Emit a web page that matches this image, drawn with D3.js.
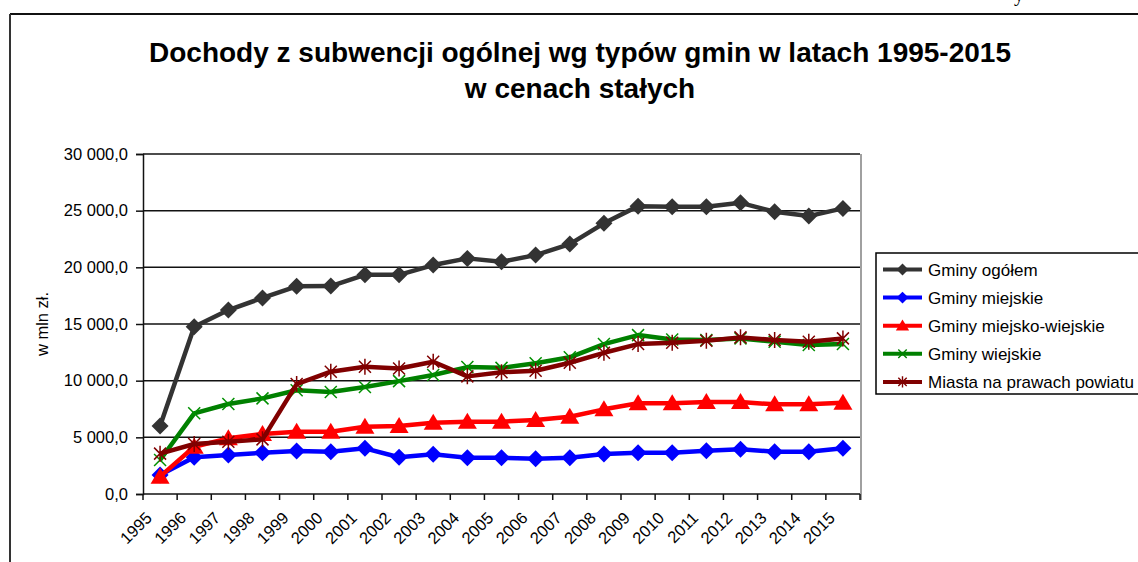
<!DOCTYPE html>
<html>
<head>
<meta charset="utf-8">
<script src="https://cdn.jsdelivr.net/npm/d3@7"></script>
<style>
  body { margin: 0; background: #fff; }
  text { font-family: "Liberation Sans", Arial, sans-serif; fill: #000; }
</style>
</head>
<body>
<div id="chart"></div>
<script>
// data (mln zł)
var years = ["1995","1996","1997","1998","1999","2000","2001","2002","2003","2004","2005",
             "2006","2007","2008","2009","2010","2011","2012","2013","2014","2015"];
var ogolem = [6000, 14760, 16230, 17300, 18330, 18350, 19340, 19340, 20200, 20790, 20490,
              21080, 22050, 23880, 25400, 25340, 25340, 25690, 24900, 24520, 25200];
var miejskie = [1680, 3240, 3440, 3640, 3790, 3730, 4030, 3240, 3500, 3200, 3200,
                3110, 3200, 3530, 3640, 3640, 3820, 3940, 3730, 3730, 4030];
var miejskoWiejskie = [1530, 4170, 4910, 5290, 5500, 5500, 5940, 6000, 6290, 6380, 6380,
                       6530, 6820, 7470, 8000, 8000, 8110, 8110, 7910, 7910, 8050];
var wiejskie = [3000, 7120, 7940, 8440, 9150, 9000, 9440, 9960, 10500, 11200, 11130,
                11530, 12060, 13230, 14020, 13640, 13580, 13730, 13430, 13140, 13230];
var miasta = [3560, 4410, 4610, 4820, 9700, 10790, 11230, 11080, 11670, 10380, 10750,
              10880, 11580, 12460, 13230, 13350, 13520, 13820, 13580, 13430, 13730];
var yTicks = [0, 5000, 10000, 15000, 20000, 25000, 30000];

var series = [
  {name: "Gminy ogółem", values: ogolem, color: "#333333", marker: "diamond"},
  {name: "Gminy miejskie", values: miejskie, color: "#0000ff", marker: "diamond"},
  {name: "Gminy miejsko-wiejskie", values: miejskoWiejskie, color: "#ff0000", marker: "triangle"},
  {name: "Gminy wiejskie", values: wiejskie, color: "#008000", marker: "x"},
  {name: "Miasta na prawach powiatu", values: miasta, color: "#800000", marker: "star"}
];

var width = 1138, height = 562;
var plot = {left: 143, right: 860, top: 154, bottom: 494};

var svg = d3.select("#chart").append("svg")
  .attr("width", width)
  .attr("height", height);

// outer frame
svg.append("line").attr("x1", 10).attr("x2", width).attr("y1", 14).attr("y2", 14)
  .attr("stroke", "#111").attr("stroke-width", 2);
svg.append("line").attr("x1", 10).attr("x2", 10).attr("y1", 14).attr("y2", height)
  .attr("stroke", "#333").attr("stroke-width", 2);
// stray glyph above the frame (cut off at the top edge as in the source)
svg.append("text").attr("x", 1014).attr("y", 1)
  .style("font-family", "'Liberation Serif', serif").style("font-size", "20px").text("y");

// title
svg.append("text").attr("x", 580).attr("y", 62).attr("text-anchor", "middle")
  .style("font-size", "28px").style("font-weight", "bold")
  .text("Dochody z subwencji ogólnej wg typów gmin w latach 1995-2015");
svg.append("text").attr("x", 580).attr("y", 98).attr("text-anchor", "middle")
  .style("font-size", "28px").style("font-weight", "bold")
  .text("w cenach stałych");

var x = d3.scaleBand().domain(years).range([plot.left, plot.right]);
var y = d3.scaleLinear().domain([0, 30000]).range([plot.bottom, plot.top]);
var cx = function(i) { return x(years[i]) + x.bandwidth() / 2; };

var fmt = d3.formatLocale({decimal: ",", thousands: " ", grouping: [3], currency: ["", " zł"]}).format(",.1f");

// gridlines
svg.append("g").selectAll("line").data(yTicks.slice(1)).join("line")
  .attr("x1", plot.left).attr("x2", plot.right)
  .attr("y1", function(d) { return y(d); }).attr("y2", function(d) { return y(d); })
  .attr("stroke", "#111").attr("stroke-width", 1.5);

// right border of plot area
svg.append("line").attr("x1", plot.right + 1).attr("x2", plot.right + 1)
  .attr("y1", plot.top).attr("y2", plot.bottom + 6)
  .attr("stroke", "#a0a0a0").attr("stroke-width", 2);

// y axis
var yAxis = svg.append("g")
  .attr("transform", "translate(" + plot.left + ",0)")
  .call(d3.axisLeft(y).tickValues(yTicks).tickFormat(fmt).tickSize(7).tickPadding(8));
yAxis.select(".domain").attr("stroke", "#111").attr("stroke-width", 1.5);
yAxis.selectAll(".tick line").attr("stroke", "#111").attr("stroke-width", 1.5);
yAxis.selectAll("text").style("font-size", "16.5px").attr("fill", "#000")
  .style("font-family", "'Liberation Sans', Arial, sans-serif");

svg.append("text")
  .attr("transform", "translate(48,324) rotate(-90)")
  .attr("text-anchor", "middle")
  .style("font-size", "16.5px")
  .text("w mln zł.");

// x axis
var xg = svg.append("g");
xg.append("line").attr("x1", plot.left).attr("x2", plot.right)
  .attr("y1", plot.bottom).attr("y2", plot.bottom)
  .attr("stroke", "#111").attr("stroke-width", 1.5);
xg.selectAll("line.tick").data(years.concat(["end"])).join("line")
  .attr("class", "tick")
  .attr("x1", function(d) { return d === "end" ? plot.right : x(d); })
  .attr("x2", function(d) { return d === "end" ? plot.right : x(d); })
  .attr("y1", plot.bottom).attr("y2", plot.bottom + 6)
  .attr("stroke", "#111").attr("stroke-width", 1.5);
xg.selectAll("text").data(years).join("text")
  .attr("transform", function(d, i) {
    return "translate(" + (cx(i) - 7) + "," + 519 + ") rotate(-45)";
  })
  .attr("text-anchor", "end")
  .style("font-size", "16.5px")
  .text(function(d) { return d; });

// markers
function markerPath(type) {
  if (type === "diamond") return "M0,-8.5L8.5,0L0,8.5L-8.5,0Z";
  if (type === "triangle") return "M0,-9L9.5,7L-9.5,7Z";
  if (type === "x") return "M-6,-6L6,6M-6,6L6,-6";
  return "M-6,-6L6,6M-6,6L6,-6M0,-8L0,8";
}

var line = d3.line()
  .x(function(d, i) { return cx(i); })
  .y(function(d) { return y(d); });

series.forEach(function(s) {
  var g = svg.append("g");
  g.append("path").datum(s.values)
    .attr("d", line)
    .attr("fill", "none")
    .attr("stroke", s.color)
    .attr("stroke-width", 4.5)
    .attr("stroke-linejoin", "round");
  var filled = s.marker === "diamond" || s.marker === "triangle";
  g.selectAll("path.m").data(s.values).join("path")
    .attr("class", "m")
    .attr("transform", function(d, i) { return "translate(" + cx(i) + "," + y(d) + ")"; })
    .attr("d", markerPath(s.marker))
    .attr("fill", filled ? s.color : "none")
    .attr("stroke", filled ? "none" : (s.marker === "x" ? "#009000" : s.color))
    .attr("stroke-width", 1.5);
});

// legend
var lg = svg.append("g");
lg.append("rect").attr("x", 876).attr("y", 253).attr("width", 280).attr("height", 141)
  .attr("fill", "#fff").attr("stroke", "#000").attr("stroke-width", 1.5);
var rows = lg.selectAll("g.row").data(series).join("g")
  .attr("class", "row")
  .attr("transform", function(d, i) { return "translate(0," + (269.5 + i * 28.1) + ")"; });
rows.append("line").attr("x1", 883).attr("x2", 922).attr("y1", 0).attr("y2", 0)
  .attr("stroke", function(d) { return d.color; }).attr("stroke-width", 4);
rows.append("path")
  .attr("transform", "translate(902.5,0) scale(0.7)")
  .attr("d", function(d) { return markerPath(d.marker); })
  .attr("fill", function(d) { return (d.marker === "diamond" || d.marker === "triangle") ? d.color : "none"; })
  .attr("stroke", function(d) { return (d.marker === "diamond" || d.marker === "triangle") ? "none" : d.color; })
  .attr("stroke-width", 2);
rows.append("text").attr("x", 928).attr("y", 6)
  .style("font-size", "17px")
  .text(function(d) { return d.name; });
</script>
</body>
</html>
